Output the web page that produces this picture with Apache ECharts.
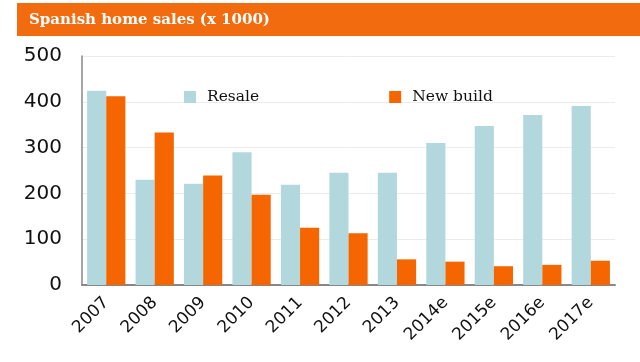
<!DOCTYPE html>
<html><head><meta charset="utf-8">
<script src="https://cdn.jsdelivr.net/npm/echarts@6/dist/echarts.min.js"></script>
<style>html,body{margin:0;padding:0;background:#fff}#c{width:640px;height:362px}</style>
</head><body><div id="c"></div>
<script>
const categories = ['2007','2008','2009','2010','2011','2012','2013','2014e','2015e','2016e','2017e'];
const resale = [424, 230, 221, 290, 219, 245, 245, 310, 347, 371, 391];
const newBuild = [412, 333, 239, 197, 125, 113, 56, 51, 41, 44, 53];
const yTicks = [0, 100, 200, 300, 400, 500];

const chart = echarts.init(document.getElementById('c'), null, {renderer: 'canvas'});
chart.setOption({
  animation: false,
  backgroundColor: '#ffffff',
  graphic: [{
    type: 'rect', left: 17, top: 3, z: -1,
    shape: {width: 623, height: 33},
    style: {fill: '#f26b0f'}
  }],
  title: {
    text: 'Spanish home sales (x 1000)',
    left: 24, top: 8,
    textStyle: {color: '#fff', fontFamily: 'DejaVu Serif', fontWeight: 'bold', fontSize: 15}
  },
  legend: {
    top: 84, left: 179, itemGap: 130,
    itemWidth: 12, itemHeight: 12, icon: 'rect',
    textStyle: {fontFamily: 'DejaVu Serif', fontSize: 15.5, color: '#111', padding: [0,0,0,6]},
    data: ['Resale', 'New build']
  },
  grid: {left: 82, right: 25, top: 56, bottom: 77, containLabel: false},
  xAxis: {
    type: 'category', data: categories,
    axisLine: {lineStyle: {color: '#888', width: 2}},
    axisTick: {show: false},
    axisLabel: {rotate: 45, interval: 0, fontFamily: 'DejaVu Sans', fontSize: 17, color: '#111', margin: 15}
  },
  yAxis: {
    type: 'value', min: 0, max: 500, interval: 100,
    axisLine: {show: true, lineStyle: {color: '#888', width: 1.5}},
    axisTick: {show: false},
    splitLine: {lineStyle: {color: '#ececec', width: 1}},
    axisLabel: {fontFamily: 'DejaVu Sans', fontSize: 20, color: '#111', margin: 20,
      formatter: v => yTicks.includes(v) ? String(v) : ''}
  },
  series: [
    {name: 'Resale', type: 'bar', data: resale, barGap: '0%', barCategoryGap: '21%',
     itemStyle: {color: '#b2d8de'}},
    {name: 'New build', type: 'bar', data: newBuild,
     itemStyle: {color: '#f56600'}}
  ]
});
</script></body></html>
